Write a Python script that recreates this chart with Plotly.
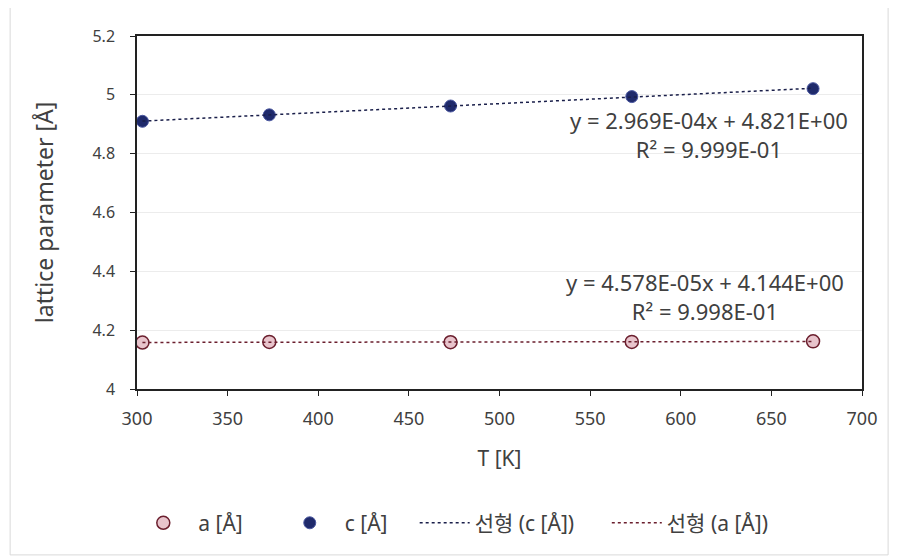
import numpy as np
import plotly.graph_objects as go

T = [303, 373, 473, 573, 673]
a_vals = [4.158, 4.160, 4.159, 4.160, 4.162]
c_vals = [4.910, 4.932, 4.962, 4.994, 5.021]

eq_c = ["y = 2.969E-04x + 4.821E+00", "R² = 9.999E-01"]
eq_a = ["y = 4.578E-05x + 4.144E+00", "R² = 9.998E-01"]

FONT = "Noto Sans, Noto Sans CJK KR, sans-serif"
TXT = "#404040"

pc = np.polyfit(T, c_vals, 1)
pa = np.polyfit(T, a_vals, 1)
xfit = [T[0], T[-1]]

fig = go.Figure()
fig.add_trace(go.Scatter(x=T, y=a_vals, mode="markers", name="a [Å]", legend="legend",
                         marker=dict(size=13, color="#e8c4cc", line=dict(color="#6b1f2e", width=1.5))))
fig.add_trace(go.Scatter(x=T, y=c_vals, mode="markers", name="c [Å]", legend="legend2",
                         marker=dict(size=12, color="#1f2a6b", line=dict(color="#4a57a0", width=1))))
fig.add_trace(go.Scatter(x=xfit, y=list(np.polyval(pc, xfit)), mode="lines", name="선형 (c [Å])",
                         legend="legend3", line=dict(color="#1a1f4a", width=1.5, dash="dot")))
fig.add_trace(go.Scatter(x=xfit, y=list(np.polyval(pa, xfit)), mode="lines", name="선형 (a [Å])",
                         legend="legend4", line=dict(color="#6b1f2e", width=1.5, dash="dot")))

fig.add_annotation(x=0.789, y=0.722, xref="paper", yref="paper", text=eq_c[0] + "<br>" + eq_c[1],
                   xanchor="center", yanchor="middle",
                   showarrow=False, align="center", font=dict(family=FONT, size=22, color=TXT))
fig.add_annotation(x=0.783, y=0.263, xref="paper", yref="paper", text=eq_a[0] + "<br>" + eq_a[1],
                   xanchor="center", yanchor="middle",
                   showarrow=False, align="center", font=dict(family=FONT, size=22, color=TXT))

fig.add_shape(type="rect", xref="paper", yref="paper", x0=-0.175, x1=1.036, y0=-0.47, y1=1.088,
              line=dict(color="#d9d9d9", width=1), fillcolor="rgba(0,0,0,0)", layer="below")

LEG_Y = -0.38
def leg(x, w):
    return dict(orientation="h", x=x, xanchor="left", y=LEG_Y, yanchor="middle",
                font=dict(family=FONT, size=21, color=TXT), itemwidth=w, bgcolor="rgba(0,0,0,0)")

fig.update_layout(
    width=898, height=559,
    margin=dict(l=129, r=44, t=28, b=178),
    paper_bgcolor="white", plot_bgcolor="white",
    font=dict(family=FONT, size=17, color=TXT),
    showlegend=True,
    legend=leg(-0.012, 60),
    legend2=leg(0.19, 60),
    legend3=leg(0.383, 50),
    legend4=leg(0.648, 50),
    xaxis=dict(range=[300, 700], dtick=50, showline=True, linecolor="#222", linewidth=1.5, mirror=True,
               ticks="outside", ticklen=5, tickcolor="#222", showgrid=False, zeroline=False,
               tickfont=dict(size=18, color=TXT), ticklabelstandoff=8,
               title=dict(text="T [K]", font=dict(size=21, color=TXT), standoff=22)),
    yaxis=dict(range=[4, 5.2], dtick=0.2, showline=True, linecolor="#222", linewidth=1.5, mirror=True,
               ticks="outside", ticklen=5, tickcolor="#222", showgrid=True, gridcolor="#ececec",
               zeroline=False, tickfont=dict(size=16, color=TXT), ticklabelstandoff=12,
               title=dict(text="lattice parameter [Å]", font=dict(size=23, color=TXT), standoff=32)),
)

fig.write_html("out.html")
